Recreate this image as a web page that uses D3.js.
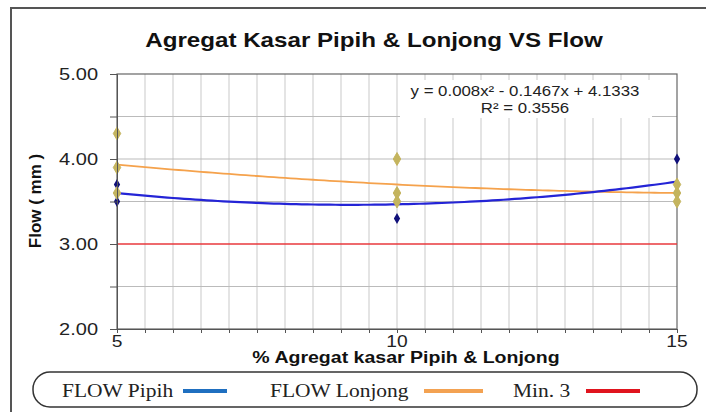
<!DOCTYPE html>
<html>
<head>
<meta charset="utf-8">
<script src="https://cdn.jsdelivr.net/npm/d3@7"></script>
<style>
  body { margin: 0; background: #fff; }
  svg { display: block; }
</style>
</head>
<body>
<div id="chart"></div>
<script>
// data
var xCats = [5, 10, 15];
var pipihX = [5, 5, 5, 10, 10, 10, 15, 15, 15];
var pipihY = [3.70, 3.50, 3.60, 3.30, 3.50, 3.60, 4.00, 3.60, 3.60];
var lonjongX = [5, 5, 5, 10, 10, 10, 15, 15, 15];
var lonjongY = [4.30, 3.90, 3.60, 4.00, 3.60, 3.50, 3.70, 3.60, 3.50];
var minLimit = 3.0;
var yTicks = [2.0, 2.5, 3.0, 3.5, 4.0, 4.5, 5.0];
var yLabels = [2.0, 3.0, 4.0, 5.0];
var equationText = "y = 0.008x\u00b2  - 0.1467x  + 4.1333";
var r2Text = "R\u00b2 = 0.3556";
var legendItems = ["FLOW Pipih", "FLOW Lonjong", "Min. 3"];

var W = 706, H = 412;
var margin = { top: 74, right: 29, bottom: 83, left: 117 };
var width = W - margin.left - margin.right;
var height = H - margin.top - margin.bottom;

var svg = d3.select("#chart").append("svg")
  .attr("width", W)
  .attr("height", H);

// the source picture is a bit wider than tall, so text is stretched sideways
function stretch(sel, k) {
  sel.each(function() {
    var len = this.getComputedTextLength();
    d3.select(this)
      .attr("textLength", len * k)
      .attr("lengthAdjust", "spacingAndGlyphs");
  });
}

// outer frame (runs off right and bottom edge)
svg.append("path")
  .attr("d", "M11," + (H + 5) + " L11,8 L" + (W + 5) + ",8")
  .attr("fill", "none")
  .attr("stroke", "#555")
  .attr("stroke-width", 2);

var g = svg.append("g")
  .attr("transform", "translate(" + margin.left + "," + margin.top + ")");

var x = d3.scaleLinear().domain([5, 15]).range([0, width]);
var y = d3.scaleLinear().domain([2, 5]).range([height, 0]);

// gridlines
var xGrid = d3.range(5.5, 15, 0.5);
g.append("g").selectAll("line")
  .data(xGrid)
  .enter().append("line")
  .attr("x1", function(d) { return x(d); })
  .attr("x2", function(d) { return x(d); })
  .attr("y1", 0)
  .attr("y2", height)
  .attr("stroke", "#c9c9c9")
  .attr("stroke-width", 1);

g.append("g").selectAll("line")
  .data(yTicks.filter(function(d) { return d > 2 && d < 5 && d != minLimit; }))
  .enter().append("line")
  .attr("x1", 0)
  .attr("x2", width)
  .attr("y1", function(d) { return y(d); })
  .attr("y2", function(d) { return y(d); })
  .attr("stroke", "#bbbbbb")
  .attr("stroke-width", 1);

// equation box (white background hides the grid)
var eqX = 408;
g.append("rect")
  .attr("x", 283)
  .attr("y", 6)
  .attr("width", 252)
  .attr("height", 38)
  .attr("fill", "#fff");
g.append("text")
  .attr("x", eqX)
  .attr("y", 22)
  .attr("text-anchor", "middle")
  .attr("font-family", "Arial, 'Liberation Sans'")
  .attr("font-size", "14px")
  .attr("fill", "#222")
  .text(equationText)
  .call(stretch, 1.2);
g.append("text")
  .attr("x", eqX)
  .attr("y", 39)
  .attr("text-anchor", "middle")
  .attr("font-family", "Arial, 'Liberation Sans'")
  .attr("font-size", "14px")
  .attr("fill", "#222")
  .text(r2Text)
  .call(stretch, 1.2);

// plot border
g.append("rect")
  .attr("x", 0)
  .attr("y", 0)
  .attr("width", width)
  .attr("height", height)
  .attr("fill", "none")
  .attr("stroke", "#666")
  .attr("stroke-width", 1.2);

// min line
g.append("line")
  .attr("x1", 0)
  .attr("x2", width)
  .attr("y1", y(minLimit))
  .attr("y2", y(minLimit))
  .attr("stroke", "#e8383c")
  .attr("stroke-width", 1.3);

// polynomial trend (order 2, least squares)
function polyFit(xs, ys) {
  var S = [0, 0, 0, 0, 0], T = [0, 0, 0];
  xs.forEach(function(xv, i) {
    for (var k = 0; k < 5; k++) S[k] += Math.pow(xv, k);
    for (var k = 0; k < 3; k++) T[k] += ys[i] * Math.pow(xv, k);
  });
  var A = [[S[0], S[1], S[2], T[0]], [S[1], S[2], S[3], T[1]], [S[2], S[3], S[4], T[2]]];
  for (var i = 0; i < 3; i++) {
    for (var j = i + 1; j < 3; j++) {
      var f = A[j][i] / A[i][i];
      for (var k = i; k < 4; k++) A[j][k] -= f * A[i][k];
    }
  }
  var c = [0, 0, 0];
  for (var i = 2; i >= 0; i--) {
    var s = A[i][3];
    for (var k = i + 1; k < 3; k++) s -= A[i][k] * c[k];
    c[i] = s / A[i][i];
  }
  return function(t) { return c[0] + c[1] * t + c[2] * t * t; };
}

var line = d3.line()
  .x(function(d) { return x(d[0]); })
  .y(function(d) { return y(d[1]); });

var fitP = polyFit(pipihX, pipihY);
var fitL = polyFit(lonjongX, lonjongY);
var xs = d3.range(5, 15.01, 0.1);

g.append("path")
  .datum(xs.map(function(t) { return [t, fitL(t)]; }))
  .attr("d", line)
  .attr("fill", "none")
  .attr("stroke", "#f5a24c")
  .attr("stroke-width", 1.8);

g.append("path")
  .datum(xs.map(function(t) { return [t, fitP(t)]; }))
  .attr("d", line)
  .attr("fill", "none")
  .attr("stroke", "#2424d6")
  .attr("stroke-width", 2.2);

// markers
g.append("g").selectAll("path")
  .data(pipihY.map(function(v, i) { return [pipihX[i], v]; }))
  .enter().append("path")
  .attr("transform", function(d) { return "translate(" + x(d[0]) + "," + y(d[1]) + ")"; })
  .attr("d", d3.symbol().type(d3.symbolDiamond).size(34))
  .attr("fill", "#10107a");

g.append("g").selectAll("path")
  .data(lonjongY.map(function(v, i) { return [lonjongX[i], v]; }))
  .enter().append("path")
  .attr("transform", function(d) { return "translate(" + x(d[0]) + "," + y(d[1]) + ")"; })
  .attr("d", d3.symbol().type(d3.symbolDiamond).size(48))
  .attr("fill", "#c4b45e")
  .attr("stroke", "#c4b45e")
  .attr("stroke-width", 1)
  .attr("stroke-linejoin", "round");

// axes
var yAxis = g.append("g")
  .call(d3.axisLeft(y).tickValues(yTicks).tickSize(7).tickFormat(""));
yAxis.select(".domain").attr("stroke", "#555");
yAxis.selectAll(".tick line").attr("stroke", "#555");

g.append("g").selectAll("text")
  .data(yLabels)
  .enter().append("text")
  .attr("x", -19)
  .attr("y", function(d) { return y(d); })
  .attr("dy", "0.35em")
  .attr("text-anchor", "end")
  .attr("font-family", "Arial, 'Liberation Sans'")
  .attr("font-size", "16px")
  .attr("fill", "#222")
  .text(function(d) { return d3.format(".2f")(d); })
  .call(stretch, 1.25);

var xAxis = g.append("g")
  .attr("transform", "translate(0," + height + ")")
  .call(d3.axisBottom(x).tickValues(d3.range(5, 15.01, 0.5)).tickSize(4).tickFormat(""));
xAxis.select(".domain").attr("stroke", "#555");
xAxis.selectAll(".tick line").attr("stroke", "#555");

g.append("g").selectAll("text")
  .data(xCats)
  .enter().append("text")
  .attr("x", function(d) { return x(d); })
  .attr("y", height + 18)
  .attr("text-anchor", "middle")
  .attr("font-family", "Arial, 'Liberation Sans'")
  .attr("font-size", "16px")
  .attr("fill", "#222")
  .text(function(d) { return d; })
  .call(stretch, 1.2);

// titles
svg.append("text")
  .attr("x", 374)
  .attr("y", 47)
  .attr("text-anchor", "middle")
  .attr("font-family", "Arial, 'Liberation Sans'")
  .attr("font-weight", "bold")
  .attr("font-size", "21px")
  .attr("fill", "#111")
  .text("Agregat Kasar Pipih & Lonjong VS Flow")
  .call(stretch, 1.15);

svg.append("text")
  .attr("x", 406)
  .attr("y", 363)
  .attr("text-anchor", "middle")
  .attr("font-family", "Arial, 'Liberation Sans'")
  .attr("font-weight", "bold")
  .attr("font-size", "16px")
  .attr("fill", "#111")
  .text("% Agregat kasar Pipih & Lonjong")
  .call(stretch, 1.22);

svg.append("text")
  .attr("transform", "translate(41,201) rotate(-90)")
  .attr("text-anchor", "middle")
  .attr("font-family", "Arial, 'Liberation Sans'")
  .attr("font-weight", "bold")
  .attr("font-size", "17px")
  .attr("fill", "#111")
  .text("Flow ( mm )");

// legend
svg.append("rect")
  .attr("x", 33)
  .attr("y", 372)
  .attr("width", 664)
  .attr("height", 35)
  .attr("rx", 17)
  .attr("ry", 17)
  .attr("fill", "#fff")
  .attr("stroke", "#333")
  .attr("stroke-width", 1.5);

var legColors = ["#1f6fc0", "#f3a252", "#e0141e"];
var legTextX = [62, 270, 513];
var legLineX = [[183, 227], [424, 483], [586, 640]];

legendItems.forEach(function(name, i) {
  svg.append("text")
    .attr("x", legTextX[i])
    .attr("y", 397)
    .attr("font-family", "'Liberation Serif', 'Times New Roman', serif")
    .attr("font-size", "19px")
    .attr("fill", "#222")
    .text(name)
    .call(stretch, 1.13);
  svg.append("line")
    .attr("x1", legLineX[i][0])
    .attr("x2", legLineX[i][1])
    .attr("y1", 391)
    .attr("y2", 391)
    .attr("stroke", legColors[i])
    .attr("stroke-width", 4);
});
</script>
</body>
</html>
